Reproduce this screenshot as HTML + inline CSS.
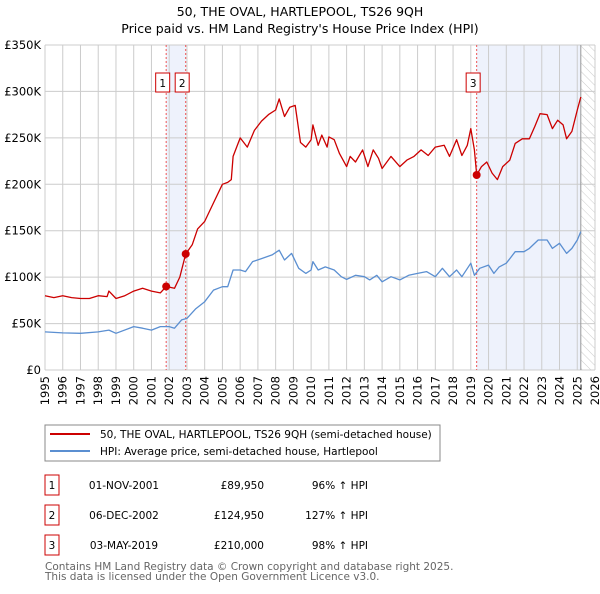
<!DOCTYPE html>
<html><head><meta charset="utf-8"><style>
body{margin:0;width:600px;height:590px;background:#fff;font-family:"DejaVu Sans","Liberation Sans",sans-serif;overflow:hidden}
svg text{font-family:"DejaVu Sans","Liberation Sans",sans-serif}
</style></head><body>
<svg id="chart" width="600" height="590" xmlns="http://www.w3.org/2000/svg">
<defs><pattern id="hatch" width="6" height="6" patternUnits="userSpaceOnUse" patternTransform="rotate(-45)"><line x1="0" y1="0" x2="0" y2="6" stroke="#ccc" stroke-width="1"/></pattern></defs>
<text x="300" y="16" text-anchor="middle" font-size="12.5">50, THE OVAL, HARTLEPOOL, TS26 9QH</text>
<text x="300" y="33" text-anchor="middle" font-size="12.5">Price paid vs. HM Land Registry's House Price Index (HPI)</text>
<g id="bg"></g><g id="grid"></g><g id="series"></g><g id="axes"></g>
<rect x="45" y="425" width="395" height="36" fill="#fff" stroke="#888"/>
<line x1="50" y1="434" x2="90" y2="434" stroke="#cc0000" stroke-width="2"/>
<text x="100" y="438" font-size="10.5">50, THE OVAL, HARTLEPOOL, TS26 9QH (semi-detached house)</text>
<line x1="50" y1="451" x2="90" y2="451" stroke="#5b8fd1" stroke-width="2"/>
<text x="100" y="455" font-size="10.5">HPI: Average price, semi-detached house, Hartlepool</text>
<g id="table" font-size="10.5"></g>
<text x="45" y="570" font-size="10.5" fill="#666">Contains HM Land Registry data © Crown copyright and database right 2025.</text>
<text x="45" y="580" font-size="10.5" fill="#666">This data is licensed under the Open Government Licence v3.0.</text>
</svg>
<script>
const redYears=[1995,1995.5,1996,1996.5,1997,1997.5,1998,1998.5,1998.6,1999,1999.5,2000,2000.5,2001,2001.5,2001.83,2002.3,2002.6,2002.93,2003.3,2003.6,2004,2004.5,2005,2005.3,2005.5,2005.6,2006,2006.4,2006.8,2007.2,2007.6,2008,2008.2,2008.5,2008.8,2009.1,2009.4,2009.7,2010,2010.1,2010.4,2010.6,2010.9,2011,2011.3,2011.6,2012,2012.2,2012.5,2012.9,2013.2,2013.5,2013.8,2014,2014.5,2015,2015.4,2015.8,2016.2,2016.6,2017,2017.5,2017.8,2018.2,2018.5,2018.8,2019,2019.2,2019.33,2019.6,2019.9,2020.2,2020.5,2020.8,2021.2,2021.5,2021.9,2022.3,2022.6,2022.9,2023.3,2023.6,2023.9,2024.2,2024.4,2024.7,2025,2025.2];
const redValues=[80,78,80,78,77,77,80,79,85,77,80,85,88,85,83,89.95,88,100,124.95,135,152,160,180,200,202,205,230,250,240,258,268,275,280,292,273,283,285,245,240,248,264,242,253,240,251,248,233,219,230,224,237,219,237,228,217,230,219,226,230,237,231,240,242,230,248,231,242,260,237,210,219,224,212,205,219,226,244,249,249,262,276,275,260,269,264,249,257,280,294];
const hpiYears=[1995,1996,1997,1998,1998.6,1999,2000,2000.5,2001,2001.5,2002,2002.3,2002.7,2003,2003.5,2004,2004.5,2005,2005.3,2005.6,2006,2006.3,2006.7,2007.2,2007.8,2008.2,2008.5,2008.9,2009.3,2009.7,2010,2010.1,2010.4,2010.8,2011.3,2011.7,2012,2012.5,2013,2013.3,2013.7,2014,2014.5,2015,2015.5,2016,2016.5,2017,2017.4,2017.8,2018.2,2018.5,2019,2019.2,2019.5,2020,2020.3,2020.6,2021,2021.5,2022,2022.3,2022.8,2023.3,2023.6,2024,2024.4,2024.7,2025,2025.2];
const hpiValues=[41,40,39.5,41,43,39.5,46.7,45,43,46.7,46.7,45,54,55.6,66,73.6,86,89.7,89.7,107.7,107.7,106,116.7,120,124,129,118.5,125.6,109.5,104,107.7,116.7,107.7,111,107.7,100.5,97.6,102,100.5,97,102,95,100.5,97,102,104,106,100.5,109.5,100.5,107.7,100.5,115,102,109.5,113,104,111,115,127.4,127.4,131,140,140,131,136.4,125.6,131,140,149];
const saleLabels=["1","2","3"];
const saleYears=[2001.83,2002.93,2019.33];
const saleValues=[89.95,124.95,210];
const saleDates=["01-NOV-2001","06-DEC-2002","03-MAY-2019"];
const salePrices=["£89,950","£124,950","£210,000"];
const saleHpi=["96% ↑ HPI","127% ↑ HPI","98% ↑ HPI"];
const yTicks=[0,50,100,150,200,250,300,350];
const yTickLabels=["£0","£50K","£100K","£150K","£200K","£250K","£300K","£350K"];
const xTicks=[];for(let y=1995;y<=2026;y++)xTicks.push(y);

const NS="http://www.w3.org/2000/svg";
const X0=45,X1=595,Y0=370,Y1=45,YR0=1995,YR1=2026,VMAX=350,DATA_END=2025.2;
const sx=y=>X0+(y-YR0)/(YR1-YR0)*(X1-X0);
const sy=v=>Y0-v/VMAX*(Y0-Y1);
function mk(tag,attrs,parent){const e=document.createElementNS(NS,tag);for(const k in attrs)e.setAttribute(k,attrs[k]);parent.appendChild(e);return e;}
const bg=document.getElementById('bg'),grid=document.getElementById('grid'),ser=document.getElementById('series'),axes=document.getElementById('axes'),tbl=document.getElementById('table');

let r=mk('rect',{x:sx(saleYears[0]),y:Y1,width:sx(saleYears[1])-sx(saleYears[0]),height:Y0-Y1,fill:'#eef2fc'},bg);


r=mk('rect',{x:sx(saleYears[2]),y:Y1,width:sx(DATA_END)-sx(saleYears[2]),height:Y0-Y1,fill:'#eef2fc'},bg);


r=mk('rect',{x:sx(DATA_END),y:Y1,width:X1-sx(DATA_END),height:Y0-Y1,fill:'url(#hatch)'},bg);



xTicks.forEach(t=>{const l=mk('line',{x1:sx(t),x2:sx(t),y1:Y1,y2:Y0,stroke:'#ccc','stroke-width':1},grid);


const tx=mk('text',{x:0,y:0,transform:`translate(${sx(t)+4},${Y0+6}) rotate(-90)`,'text-anchor':'end','font-size':11.5},axes);tx.textContent=t;

});
yTicks.forEach((t,i)=>{const l=mk('line',{x1:X0,x2:X1,y1:sy(t),y2:sy(t),stroke:'#ccc','stroke-width':1},grid);


const tx=mk('text',{x:X0-4,y:sy(t)+4,'text-anchor':'end','font-size':11.5},axes);tx.textContent=yTickLabels[i];

});
let dl=mk('line',{x1:sx(DATA_END),x2:sx(DATA_END),y1:Y1,y2:Y0,stroke:'#999','stroke-width':1},grid);



saleYears.forEach((y,i)=>{const l=mk('line',{x1:sx(y),x2:sx(y),y1:Y1,y2:Y0,stroke:'#e55','stroke-width':1,'stroke-dasharray':'2,2'},ser);

});

function path(xs,vs,col,name){const d=xs.map((x,i)=>(i?'L':'M')+sx(x).toFixed(1)+','+sy(vs[i]).toFixed(1)).join('');
const p=mk('path',{d:d,fill:'none',stroke:col,'stroke-width':1.3,'stroke-linejoin':'round'},ser);

}
path(hpiYears,hpiValues,'#5b8fd1','hpi-line');
path(redYears,redValues,'#cc0000','property-price-line');

saleYears.forEach((y,i)=>{const c=mk('circle',{cx:sx(y),cy:sy(saleValues[i]),r:4,fill:'#cc0000'},ser);


const bx=sx(y)-10.5;
const b=mk('rect',{x:bx,y:73,width:14,height:19,fill:'#fff',stroke:'#cc0000'},ser);


const t=mk('text',{x:bx+7,y:87,'text-anchor':'middle','font-size':10.5},ser);t.textContent=saleLabels[i];

});

saleLabels.forEach((s,i)=>{const y=475+i*30;
const b=mk('rect',{x:45,y:y,width:14,height:20,fill:'#fff',stroke:'#cc0000'},tbl);


const vals=[[52,s,'middle'],[124,saleDates[i],'middle'],[264,salePrices[i],'end'],[368,saleHpi[i],'end']];
vals.forEach(v=>{const t=mk('text',{x:v[0],y:y+14,'text-anchor':v[2]},tbl);t.textContent=v[1];

});});
</script>
</body></html>
